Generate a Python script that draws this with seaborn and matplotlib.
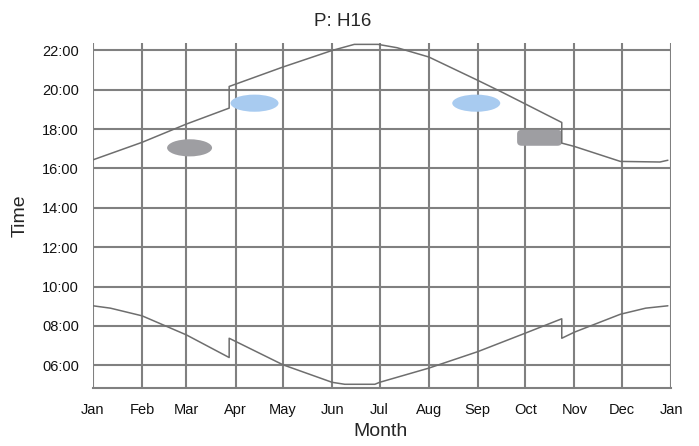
import pandas as pd
import seaborn as sns
import matplotlib.pyplot as plt
from matplotlib.patches import Ellipse, FancyBboxPatch

sns.set_theme(style="white")
plt.rcParams['font.family'] = ['Liberation Sans', 'DejaVu Sans']

# dias del año (0 = 1 ene) y hora decimal
sunset_day = [0, 31, 59, 86, 86, 120, 151, 165, 180, 192, 212, 243, 259, 273, 296, 296, 304, 333, 358, 363]
sunset_hour = [16.44, 17.33, 18.26, 19.07, 20.17, 21.16, 22.0, 22.31, 22.31, 22.14, 21.67, 20.48, 19.85, 19.28,
               18.34, 17.29, 17.12, 16.36, 16.33, 16.42]

sunrise_day = [0, 11, 31, 59, 86, 86, 120, 151, 159, 178, 181, 212, 243, 273, 296, 296, 304, 333, 349, 363]
sunrise_hour = [9.02, 8.9, 8.51, 7.54, 6.39, 7.37, 6.02, 5.13, 5.03, 5.03, 5.13, 5.85, 6.69, 7.63,
                8.36, 7.37, 7.68, 8.59, 8.9, 9.02]

# manchas (centro en dia / hora, ancho en dias, alto en horas)
blob_day = [61, 102, 242, 282]
blob_hour = [17.05, 19.32, 19.32, 17.56]
blob_width = [28.4, 30.3, 30.3, 28.4]
blob_height = [0.87, 0.87, 0.87, 0.81]
blob_color = ['#9e9ea2', '#a8cbf0', '#a8cbf0', '#9e9ea2']
blob_shape = ['ellipse', 'ellipse', 'ellipse', 'box']

month_starts = [0, 31, 59, 90, 120, 151, 181, 212, 243, 273, 304, 334, 365]
month_labels = ['Jan', 'Feb', 'Mar', 'Apr', 'May', 'Jun', 'Jul', 'Aug', 'Sep', 'Oct', 'Nov', 'Dec', 'Jan']
hour_ticks = [6, 8, 10, 12, 14, 16, 18, 20, 22]

sunset = pd.DataFrame({'day': sunset_day, 'hour': sunset_hour})
sunrise = pd.DataFrame({'day': sunrise_day, 'hour': sunrise_hour})

gray = '#808080'
fig = plt.figure(figsize=(6.99, 4.46), dpi=100)
ax = fig.add_axes([0.133, 0.130, 0.827, 0.7736])
ax.set_axisbelow(True)

# manchas
for d, h, w, hh, c, s in zip(blob_day, blob_hour, blob_width, blob_height, blob_color, blob_shape):
    if s == 'ellipse':
        ax.add_patch(Ellipse((d, h), w, hh, facecolor=c, edgecolor='none', zorder=1))
    else:
        ax.add_patch(FancyBboxPatch((d - w / 2, h - hh / 2), w, hh,
                                    boxstyle="round,pad=0,rounding_size=3",
                                    mutation_aspect=0.07, facecolor=c, edgecolor='none', zorder=1))

# curvas
for df in (sunset, sunrise):
    sns.lineplot(data=df, x='day', y='hour', estimator=None, sort=False,
                 color='#6e6e6e', linewidth=1.1, ax=ax, zorder=2)

ax.set_xlim(0, 365)
ax.set_ylim(4.84, 22.38)

ax.set_xticks(month_starts)
ax.set_xticklabels(month_labels)
minor_x = []
for a, b in zip(month_starts[:-1], month_starts[1:]):
    minor_x += [a + (b - a) * k / 4 for k in (1, 2, 3)]
ax.set_xticks(minor_x, minor=True)

ax.set_yticks(hour_ticks)
ax.set_yticklabels([f"{h:02d}:00" for h in hour_ticks])
ax.set_yticks([h / 2 for h in range(10, 45)], minor=True)

ax.grid(True, which='major', color=gray, linewidth=1.5)
for side in ('left', 'right', 'top'):
    ax.spines[side].set_visible(False)
ax.spines['bottom'].set_color(gray)
ax.spines['bottom'].set_linewidth(1.5)

ax.tick_params(axis='both', which='major', direction='out', length=7, width=1.4,
               color=gray, labelsize=10.5, labelcolor='#111111', pad=3)
ax.tick_params(axis='both', which='minor', direction='out', length=4.5, width=1.4, color=gray)
ax.tick_params(axis='x', which='major', pad=4)

ax.set_title("P: H16", fontsize=13.5, pad=12, x=0.4325)
ax.set_xlabel("Month", fontsize=14)
ax.set_ylabel("Time", fontsize=14)
ax.xaxis.set_label_coords(0.497, -0.100)
ax.yaxis.set_label_coords(-0.112, 0.5)

fig.savefig("out.png", dpi=100, facecolor='white')
